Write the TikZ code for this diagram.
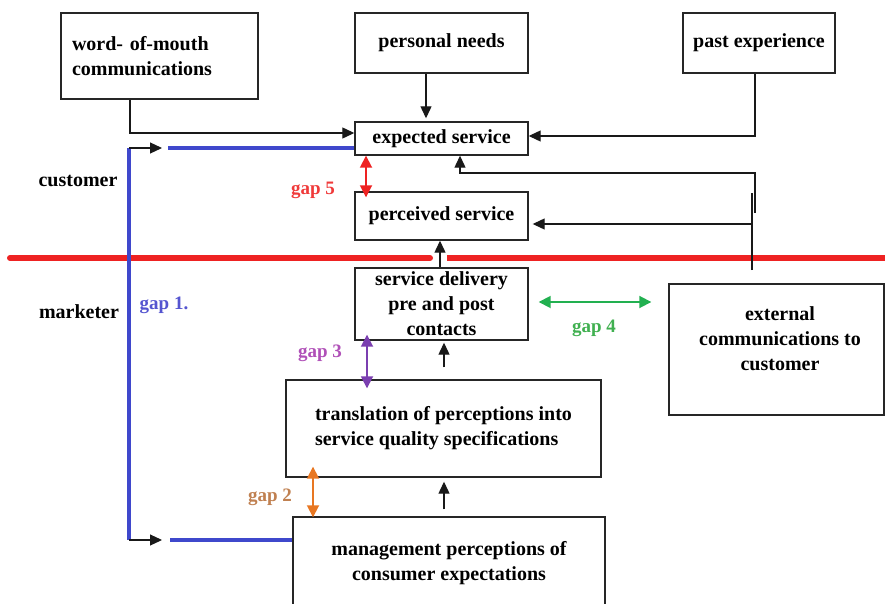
\documentclass[tikz,border=0pt]{standalone}
\usepackage{fontspec}
\setmainfont{Liberation Serif}
\usetikzlibrary{arrows.meta}
\definecolor{gapred}{HTML}{EE2222}
\definecolor{gaplabred}{HTML}{F03A3A}
\definecolor{gappurple}{HTML}{7B3FB0}
\definecolor{gaplabpurple}{HTML}{B050B8}
\definecolor{gaporange}{HTML}{E87722}
\definecolor{gaplaborange}{HTML}{C08050}
\definecolor{gapgreen}{HTML}{22B050}
\definecolor{gaplabgreen}{HTML}{40B050}
\definecolor{gapblue}{HTML}{3F48CC}
\definecolor{gaplabblue}{HTML}{5555D0}
\begin{document}
\begin{tikzpicture}[x=1pt,y=-1pt,
  every node/.style={font=\fontsize{20}{25}\selectfont\bfseries},
  box/.style={draw=black!85, line width=1.4pt, inner sep=0pt},
  arr/.style={-{Triangle[length=12pt,width=11pt]}, line width=1.2pt, black!90},
  gaparr/.style={{Triangle[length=12pt,width=12pt]}-{Triangle[length=12pt,width=12pt]}, line width=1.8pt},
  gaplab/.style={font=\fontsize{19}{23}\selectfont\bfseries},
  side/.style={font=\fontsize{20}{25}\selectfont\bfseries}]
\useasboundingbox (0,0) rectangle (885,604);
\fill[white] (0,0) rectangle (885,604);

% boxes
\node[box, minimum width=197pt, minimum height=86pt, align=left, text width=175pt] (word) at (159.5,56) {word- of-mouth\\communications};
\node[box, minimum width=173pt, minimum height=60pt] (personal) at (441.5,43) {personal needs};
\node[box, minimum width=152pt, minimum height=60pt] (past) at (759,43) {past experience};
\node[box, minimum width=173pt, minimum height=33pt] (expected) at (441.5,138.5) {expected service};
\node[box, minimum width=173pt, minimum height=48pt] (perceived) at (441.5,216) {perceived service};
\node[box, minimum width=173pt, minimum height=72pt, align=center] (delivery) at (441.5,304) {service delivery\\pre and post\\contacts};
\node[box, minimum width=315pt, minimum height=97pt, align=left] (translation) at (443.5,428.5) {translation of perceptions into\\service quality specifications};
\node[box, minimum width=312pt, minimum height=93pt, align=center] (management) at (449,563.5) {management perceptions of\\consumer expectations};
\node[box, minimum width=215pt, minimum height=131pt] (ext) at (776.5,349.5) {};
\node[align=center] (exttext) at (780,339) {external\\communications to\\customer};

% side labels
\node[side] (customer) at (78,181) {customer};
\node[side] (marketer) at (79,312) {marketer};

% red divider
\draw[gapred, line width=6pt, line cap=round] (10,258) -- (430,258);
\draw[gapred, line width=6pt] (447,258) -- (885,258);

% black connectors
\draw[arr] (word.south -| 130,0) |- (expected.west |- 0,133);
\draw[arr, shorten >=3pt] (personal.south -| 426,0) -- (expected.north -| 426,0);
\draw[arr] (past.south -| 755,0) |- (expected.east |- 0,136);
\coordinate (extline) at (752,270);
\coordinate (extline2) at (755,213);
\draw[line width=1.2pt, black!90] (extline) -- (752,193);
\draw[arr, shorten >=4pt] (extline |- 0,224) -- (perceived.east |- 0,224);
\draw[arr] (extline2) |- (460,173) -- (expected.south -| 460,0);
\draw[arr] (delivery.north -| 440,0) -- (perceived.south -| 440,0);
\draw[arr, shorten <=12pt, shorten >=2pt] (translation.north -| 444,0) -- (delivery.south -| 444,0);
\draw[arr, shorten <=7pt, shorten >=4pt] (management.north -| 444,0) -- (translation.south -| 444,0);

% gap 1 (blue)
\coordinate (b1) at (129,148);
\coordinate (b2) at (129,540);
\draw[gapblue, line width=4pt] (b1) -- (b2);
\draw[gapblue, line width=4pt] (168,148) -- (expected.west |- 0,148);
\draw[gapblue, line width=4pt] (170,540) -- (management.west |- 0,540);
\draw[arr] (b1) -- (162,148);
\draw[arr] (b2) -- (162,540);
\node[gaplab, text=gaplabblue] (g1) at (164,305) {gap 1.};

% gap 5
\draw[gaparr, gapred] (expected.south -| 366,0) -- ([yshift=-6pt]perceived.north -| 366,0);
\node[gaplab, text=gaplabred] (g5) at (313,190) {gap 5};
% gap 3
\draw[gaparr, gappurple, shorten <=-6pt, shorten >=-9pt] (delivery.south -| 367,0) -- (translation.north -| 367,0);
\node[gaplab, text=gaplabpurple] (g3) at (320,353) {gap 3};
% gap 2
\draw[gaparr, gaporange, shorten <=-11pt, shorten >=-1pt] (translation.south -| 313,0) -- (management.north -| 313,0);
\node[gaplab, text=gaplaborange] (g2) at (270,497) {gap 2};
% gap 4
\draw[gaparr, gapgreen, shorten <=10pt, shorten >=17pt] (delivery.east |- 0,302) -- (ext.west |- 0,302);
\node[gaplab, text=gaplabgreen] (g4) at (594,328) {gap 4};
\end{tikzpicture}
\end{document}
